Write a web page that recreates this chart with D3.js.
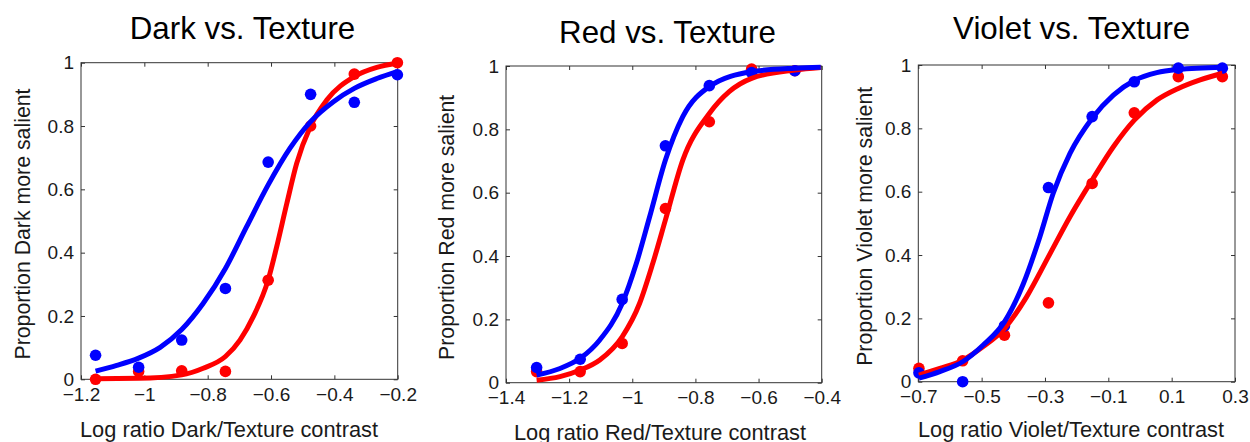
<!DOCTYPE html>
<html>
<head>
<meta charset="utf-8">
<title>Salience psychometric functions</title>
<script src="https://cdn.jsdelivr.net/npm/d3@7/dist/d3.min.js"></script>
<style>
  body { margin: 0; background: #fff; }
  svg { display: block; font-family: "Liberation Sans", Arial, sans-serif; }
</style>
</head>
<body>
<svg width="1250" height="442"></svg>
<script>
// ---- data ----
var yTicks = [0, 0.2, 0.4, 0.6, 0.8, 1];

// Dark vs. Texture
var darkTicks = [-1.2, -1, -0.8, -0.6, -0.4, -0.2];
var darkX     = [-1.154, -1.018, -0.882, -0.744, -0.609, -0.475, -0.337, -0.201];
var darkBlue  = [0.076, 0.038, 0.124, 0.287, 0.686, 0.90, 0.875, 0.962];
var darkRed   = [0.0, 0.025, 0.027, 0.025, 0.313, 0.80, 0.964, 1.0];
var darkBlueFitX = [-1.154, -1.087, -1.018, -0.95, -0.882, -0.814, -0.744, -0.677, -0.609, -0.54, -0.475, -0.403, -0.337, -0.266, -0.201];
var darkBlueFitY = [0.026, 0.044, 0.067, 0.101, 0.157, 0.24, 0.35, 0.482, 0.614, 0.73, 0.814, 0.877, 0.919, 0.95, 0.972];
var darkRedFitX  = [-1.154, -1.018, -0.882, -0.814, -0.744, -0.698, -0.656, -0.609, -0.582, -0.55, -0.519, -0.475, -0.424, -0.337, -0.266, -0.201];
var darkRedFitY  = [0.002, 0.003, 0.014, 0.035, 0.072, 0.124, 0.198, 0.314, 0.419, 0.556, 0.682, 0.80, 0.882, 0.956, 0.985, 0.998];

// Red vs. Texture
var redTicks = [-1.4, -1.2, -1, -0.8, -0.6, -0.4];
var redX     = [-1.303, -1.165, -1.032, -0.895, -0.756, -0.622, -0.485];
var redBlue  = [0.048, 0.074, 0.263, 0.748, 0.938, 0.979, 0.985];
var redRed   = [0.035, 0.035, 0.124, 0.55, 0.824, 0.99, 0.985];
var redBlueFitX = [-1.303, -1.229, -1.165, -1.103, -1.032, -0.987, -0.945, -0.895, -0.84, -0.756, -0.622, -0.485, -0.403];
var redBlueFitY = [0.024, 0.045, 0.077, 0.135, 0.25, 0.377, 0.524, 0.703, 0.84, 0.935, 0.982, 0.993, 0.996];
var redRedFitX  = [-1.303, -1.229, -1.165, -1.103, -1.032, -0.977, -0.935, -0.895, -0.84, -0.756, -0.693, -0.622, -0.485, -0.403];
var redRedFitY  = [0.008, 0.019, 0.04, 0.072, 0.145, 0.25, 0.377, 0.514, 0.703, 0.85, 0.919, 0.961, 0.987, 0.995];

// Violet vs. Texture
var violetTicks = [-0.7, -0.5, -0.3, -0.1, 0.1, 0.3];
var violetX     = [-0.698, -0.56, -0.428, -0.289, -0.151, -0.018, 0.121, 0.26];
var violetBlue  = [0.028, 0.0, 0.176, 0.613, 0.837, 0.947, 0.99, 0.99];
var violetRed   = [0.042, 0.066, 0.147, 0.249, 0.626, 0.849, 0.963, 0.963];
var violetBlueFitX = [-0.698, -0.632, -0.56, -0.495, -0.428, -0.368, -0.316, -0.274, -0.221, -0.151, -0.084, -0.018, 0.053, 0.121, 0.26];
var violetBlueFitY = [0.011, 0.032, 0.063, 0.116, 0.189, 0.31, 0.458, 0.595, 0.721, 0.832, 0.905, 0.951, 0.976, 0.986, 0.993];
var violetRedFitX  = [-0.698, -0.632, -0.56, -0.495, -0.428, -0.358, -0.289, -0.221, -0.151, -0.084, -0.018, 0.053, 0.121, 0.19, 0.26];
var violetRedFitY  = [0.021, 0.042, 0.068, 0.111, 0.168, 0.268, 0.395, 0.521, 0.637, 0.742, 0.826, 0.889, 0.926, 0.953, 0.974];

var panels = [
  { title: 'Dark vs. Texture', xlab: 'Log ratio Dark/Texture contrast', ylab: 'Proportion Dark more salient',
    domain: [-1.2, -0.2], ticks: darkTicks, x: darkX, blue: darkBlue, red: darkRed,
    blueFit: [darkBlueFitX, darkBlueFitY], redFit: [darkRedFitX, darkRedFitY],
    left: 81, top: 62.7, w: 316.7, h: 316.6, titleY: 39.3, titleX: 242.5, xlabX: 229, xlabY: 437, ylabX: 30 },
  { title: 'Red vs. Texture', xlab: 'Log ratio Red/Texture contrast', ylab: 'Proportion Red more salient',
    domain: [-1.4, -0.4], ticks: redTicks, x: redX, blue: redBlue, red: redRed,
    blueFit: [redBlueFitX, redBlueFitY], redFit: [redRedFitX, redRedFitY],
    left: 506, top: 66, w: 315.7, h: 316.7, titleY: 42.7, titleX: 667.5, xlabX: 660, xlabY: 440, ylabX: 454 },
  { title: 'Violet vs. Texture', xlab: 'Log ratio Violet/Texture contrast', ylab: 'Proportion Violet more salient',
    domain: [-0.7, 0.3], ticks: violetTicks, x: violetX, blue: violetBlue, red: violetRed,
    blueFit: [violetBlueFitX, violetBlueFitY], redFit: [violetRedFitX, violetRedFitY],
    left: 918.3, top: 65, w: 316.7, h: 316.7, titleY: 39.3, titleX: 1071.7, xlabX: 1071, xlabY: 437, ylabX: 872 }
];

var svg = d3.select('svg');
var ink = '#1a1a1a';

function fmt(v) {
  var r = Math.round(v * 10) / 10;
  if (r === 0) return '0';
  return String(r).replace('-', '\u2212');
}

panels.forEach(function(p) {
  var x = d3.scaleLinear().domain(p.domain).range([p.left, p.left + p.w]);
  var y = d3.scaleLinear().domain([0, 1]).range([p.top + p.h, p.top]);
  var g = svg.append('g');

  // axes, ticks pointing inward
  var bottom = g.append('g').attr('transform', 'translate(0,' + (p.top + p.h) + ')')
    .call(d3.axisBottom(x).tickValues(p.ticks).tickSizeInner(-4).tickSizeOuter(0).tickPadding(8).tickFormat(fmt));
  var top = g.append('g').attr('transform', 'translate(0,' + p.top + ')')
    .call(d3.axisTop(x).tickValues(p.ticks).tickSizeInner(-4).tickSizeOuter(0).tickFormat(''));
  var left = g.append('g').attr('transform', 'translate(' + p.left + ',0)')
    .call(d3.axisLeft(y).tickValues(yTicks).tickSizeInner(-4).tickSizeOuter(0).tickPadding(7).tickFormat(fmt));
  var right = g.append('g').attr('transform', 'translate(' + (p.left + p.w) + ',0)')
    .call(d3.axisRight(y).tickValues(yTicks).tickSizeInner(-4).tickSizeOuter(0).tickFormat(''));

  [bottom, top, left, right].forEach(function(a) {
    a.select('.domain').remove();
    a.selectAll('line').attr('stroke', '#333').attr('stroke-width', 1);
    a.selectAll('text').attr('fill', ink).style('font-size', '19px')
      .style('font-family', '"Liberation Sans", Arial, sans-serif');
  });

  g.append('rect')
    .attr('x', p.left).attr('y', p.top).attr('width', p.w).attr('height', p.h)
    .attr('fill', 'none').attr('stroke', '#333').attr('stroke-width', 1);

  var line = d3.line()
    .x(function(d) { return x(d[0]); })
    .y(function(d) { return y(d[1]); })
    .curve(d3.curveMonotoneX);

  function pts(xs, ys) { return xs.map(function(v, i) { return [v, ys[i]]; }); }

  // points
  [['#ff0000', p.red], ['#0000ff', p.blue]].forEach(function(s) {
    g.append('g').selectAll('circle')
      .data(pts(p.x, s[1]))
      .enter().append('circle')
      .attr('cx', function(d) { return x(d[0]); })
      .attr('cy', function(d) { return y(d[1]); })
      .attr('r', 5.8)
      .attr('fill', s[0]);
  });

  // fitted curves
  [['#ff0000', p.redFit], ['#0000ff', p.blueFit]].forEach(function(s) {
    g.append('path')
      .datum(pts(s[1][0], s[1][1]))
      .attr('d', line)
      .attr('fill', 'none')
      .attr('stroke', s[0])
      .attr('stroke-width', 5)
      .attr('stroke-linecap', 'butt');
  });

  g.append('text')
    .attr('x', p.titleX).attr('y', p.titleY)
    .attr('text-anchor', 'middle').attr('fill', '#000')
    .style('font-size', '31.3px')
    .text(p.title);

  g.append('text')
    .attr('x', p.xlabX).attr('y', p.xlabY)
    .attr('text-anchor', 'middle').attr('fill', ink)
    .style('font-size', '21.8px')
    .text(p.xlab);

  g.append('text')
    .attr('transform', 'translate(' + p.ylabX + ',' + (p.top + p.h / 2 + 3) + ') rotate(-90)')
    .attr('text-anchor', 'middle').attr('fill', ink)
    .style('font-size', '21.3px')
    .text(p.ylab);
});
</script>
</body>
</html>
